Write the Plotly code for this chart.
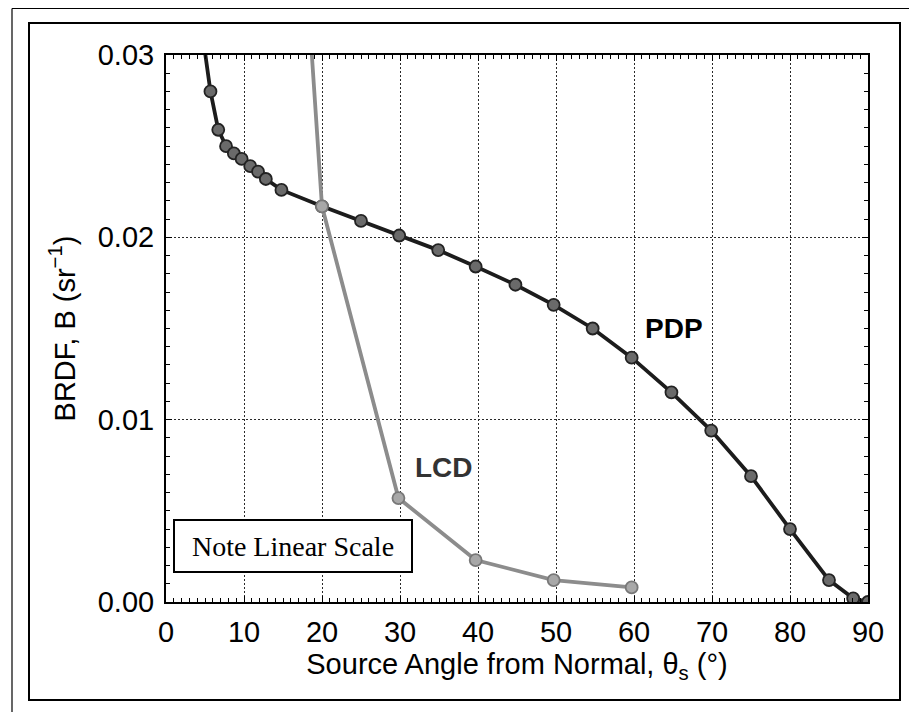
import plotly.graph_objects as go

# ---- data ----
pdp_angle = [4.4, 5.7, 6.7, 7.7, 8.7, 9.7, 10.8, 11.8, 12.8, 14.8, 20.0, 25.0, 29.9, 34.9,
             39.7, 44.8, 49.7, 54.7, 59.7, 64.8, 69.9, 75.0, 80.0, 85.0, 88.1, 90.0]
pdp_brdf = [0.0320, 0.0280, 0.0259, 0.0250, 0.0246, 0.0243, 0.0239, 0.0236, 0.0232, 0.0226,
            0.0217, 0.0209, 0.0201, 0.0193, 0.0184, 0.0174, 0.0163, 0.0150, 0.0134, 0.0115,
            0.0094, 0.0069, 0.0040, 0.0012, 0.0002, 0.0000]
lcd_angle = [17.6, 20.0, 29.8, 39.7, 49.7, 59.7]
lcd_brdf = [0.0370, 0.0217, 0.0057, 0.0023, 0.0012, 0.0008]

x_ticks = [0, 10, 20, 30, 40, 50, 60, 70, 80, 90]
y_ticks = [0.00, 0.01, 0.02, 0.03]
y_tick_labels = ["0.00", "0.01", "0.02", "0.03"]

# page body has an 8px default margin; size the figure so it fills the window
OFF = 8
W, H = 917 - OFF, 712 - OFF
ML, MT = 166 - OFF, 55 - OFF
PW, PH = 702, 547
MR, MB = W - ML - PW, H - MT - PH


def px(x):
    return (x - OFF - ML) / PW


def py(y):
    return (H - MB - (y - OFF)) / PH


FONT = "Liberation Sans, Arial, Helvetica, sans-serif"

fig = go.Figure()
fig.add_trace(go.Scatter(
    x=pdp_angle, y=pdp_brdf, mode="lines+markers", name="PDP",
    line=dict(color="#1c1c1c", width=3.8),
    marker=dict(size=12, color="#6a6a6a", line=dict(color="#222222", width=1.8)),
    cliponaxis=True,
))
fig.add_trace(go.Scatter(
    x=lcd_angle, y=lcd_brdf, mode="lines+markers", name="LCD",
    line=dict(color="#8c8c8c", width=3.8),
    marker=dict(size=12, color="#a8a8a8", line=dict(color="#787878", width=1.8)),
    cliponaxis=True,
))

axis_common = dict(
    showline=True, linecolor="black", linewidth=2, mirror="allticks",
    ticks="inside", ticklen=6, tickcolor="black", tickwidth=1,
    showgrid=True, gridcolor="#2a2a2a", gridwidth=1, griddash="2px,2px",
    zeroline=False,
    tickfont=dict(family=FONT, size=29, color="black"),
)

fig.update_xaxes(
    range=[0, 90], tickvals=x_ticks, ticktext=[str(v) for v in x_ticks],
    minor=dict(ticks="inside", ticklen=4, dtick=1, tickcolor="black", showgrid=False),
    title=dict(text="Source Angle from Normal, θ<sub>s</sub> (°)",
               font=dict(family=FONT, size=29, color="black"), standoff=0),
    ticklabelstandoff=3,
    **axis_common,
)
fig.update_yaxes(
    range=[0, 0.03], tickvals=y_ticks, ticktext=y_tick_labels,
    minor=dict(ticks="inside", ticklen=4, dtick=0.001, tickcolor="black", showgrid=False),
    title=dict(text="BRDF, B (sr<sup>−1</sup>)",
               font=dict(family=FONT, size=29, color="black"), standoff=14),
    ticklabelstandoff=4,
    **axis_common,
)

fig.add_annotation(x=31.7, y=0.0074, xref="x", yref="y", text="<b>LCD</b>",
                   showarrow=False, xanchor="left", yanchor="middle",
                   font=dict(family=FONT, size=28, color="#333333"))
fig.add_annotation(x=61.2, y=0.0150, xref="x", yref="y", text="<b>PDP</b>",
                   showarrow=False, xanchor="left", yanchor="middle",
                   font=dict(family=FONT, size=28, color="black"))
fig.add_annotation(x=px(293), y=py(546), xref="paper", yref="paper",
                   text="Note Linear Scale", showarrow=False,
                   xanchor="center", yanchor="middle",
                   width=234, height=48, bgcolor="white",
                   bordercolor="black", borderwidth=2, borderpad=1,
                   font=dict(family="Liberation Serif, Times New Roman, serif", size=28, color="black"))

# figure frames
fig.add_shape(type="rect", xref="paper", yref="paper",
              x0=px(29), x1=px(900), y0=py(700), y1=py(23),
              line=dict(color="black", width=2), layer="below")
fig.add_shape(type="line", xref="paper", yref="paper",
              x0=px(12), x1=px(917), y0=py(8.5), y1=py(8.5),
              line=dict(color="black", width=1.2))
fig.add_shape(type="line", xref="paper", yref="paper",
              x0=px(12), x1=px(12), y0=py(8.5), y1=py(712),
              line=dict(color="black", width=1.2))
fig.add_shape(type="line", xref="paper", yref="paper",
              x0=px(913), x1=px(913), y0=py(8.5), y1=py(712),
              line=dict(color="#555555", width=1))

fig.update_layout(
    width=W, height=H,
    margin=dict(l=ML, r=MR, t=MT, b=MB, autoexpand=False),
    paper_bgcolor="white", plot_bgcolor="white",
    showlegend=False,
)

fig.write_html("out.html")
